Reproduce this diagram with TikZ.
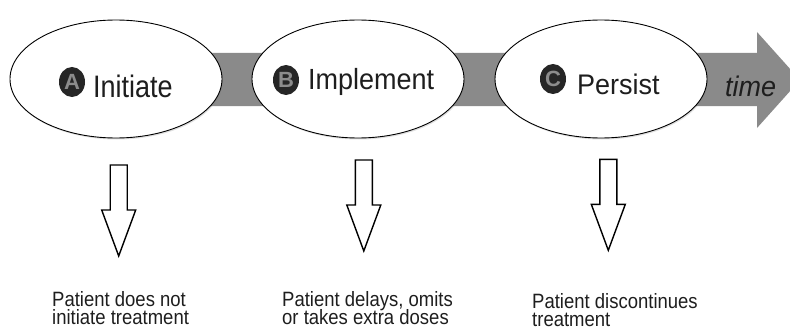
\documentclass[tikz,border=0pt]{standalone}
\usepackage{fontspec}
\setmainfont{Liberation Sans}
\usepackage{graphicx}
\usetikzlibrary{shapes.geometric,shadows}
\definecolor{bandgray}{RGB}{138,138,138}
\definecolor{badgefill}{RGB}{38,38,38}
\definecolor{badgeletter}{RGB}{140,140,140}
\definecolor{txt}{RGB}{30,30,30}
\newcommand{\vstretch}[2]{\scalebox{1}[#1]{#2}}
\newcommand{\twolines}[2]{\scalebox{1}[1.12]{\vtop{\baselineskip=15.7pt\lineskiplimit=-\maxdimen\hbox{#1}\hbox{#2}}}}
\begin{document}
\begin{tikzpicture}[x=1pt,y=-1pt,
  stage/.style={ellipse, draw=black, line width=0.9pt, fill=white,
    minimum width=212, minimum height=118, inner sep=0,
    drop shadow={opacity=0.25, shadow xshift=1pt, shadow yshift=-1.5pt}},
  badge/.style={ellipse, fill=badgefill, minimum width=26, minimum height=30, inner sep=0,
    text=badgeletter, font=\bfseries\fontsize{22}{22}\selectfont},
  stagelabel/.style={anchor=base west, inner sep=0, text=txt, font=\fontsize{27}{27}\selectfont},
  outcome/.style={anchor=base west, inner sep=0, text=txt, font=\fontsize{18.5}{18.5}\selectfont},
  hollow/.style={draw=black, line width=1.4pt, fill=white, line join=miter},
  pics/darrow/.style={code={\draw[hollow] (-8.5,0) -- (8.5,0) -- (8.5,45) -- (17,45) -- (0,91) -- (-17,45) -- (-8.5,45) -- cycle;}}
]
\useasboundingbox (0,0) rectangle (790,329);
\fill[white] (0,0) rectangle (790,329);
\begin{scope}
  \clip (0,0) rectangle (790,329);
  \fill[bandgray] (150,53) -- (757,53) -- (757,32) -- (800,80) -- (757,128) -- (757,106) -- (150,106) -- cycle;
\end{scope}

\node[stage] (e1) at (116,79) {};
\node[stage] (e2) at (358,79) {};
\node[stage] (e3) at (601,79) {};

\node[badge] (ba) at (72,82) {A};
\node[badge] (bb) at (286,80) {B};
\node[badge] (bc) at (553,79) {C};

\node[stagelabel] (la) at (93,97) {\vstretch{1.15}{Initiate}};
\node[stagelabel] (lb) at (308,89) {\vstretch{1.08}{Implement}};
\node[stagelabel] (lc) at (577,94) {\vstretch{1.05}{Persist}};
\node[stagelabel] (lt) at (725,96) {\vstretch{1.05}{\itshape time}};

\pic (a1) at (118.7,165) {darrow};
\pic (a2) at (363.8,160) {darrow};
\pic (a3) at (608.3,159.3) {darrow};

\node[outcome] (o1) at (52,306.5) {\twolines{Patient does not}{initiate treatment}};
\node[outcome] (o2) at (282,306.5) {\twolines{Patient delays, omits}{or takes extra doses}};
\node[outcome] (o3) at (532,308.5) {\twolines{Patient discontinues}{treatment}};
\end{tikzpicture}
\end{document}
